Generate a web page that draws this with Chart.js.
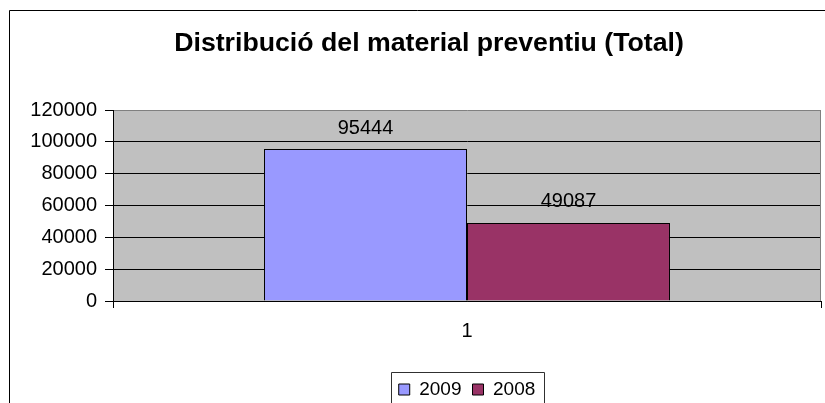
<!DOCTYPE html>
<html>
<head>
<meta charset="utf-8">
<script src="https://cdn.jsdelivr.net/npm/chart.js@4"></script>
<style>
  html, body { margin: 0; padding: 0; background: #ffffff; overflow: hidden; }
  canvas { display: block; }
</style>
</head>
<body>
<canvas id="chart" width="825" height="403"></canvas>
<script>
// chart values
const categories = ['1'];
const seriesNames = ['2009', '2008'];
const values2009 = [95444];
const values2008 = [49087];
const yMin = 0;
const yMax = 120000;
const yStep = 20000;

const FONT = '"Liberation Sans", Arial, sans-serif';

// white page, grey plot area and the outer frame of the chart
const backgroundPlugin = {
    id: 'background',
    afterLayout(chart) {
        // the title sits a little right of the page centre
        if (chart.titleBlock) chart.titleBlock.left += 7;
    },
    beforeDraw(chart) {
        const { ctx, chartArea } = chart;
        ctx.save();
        ctx.fillStyle = '#ffffff';
        ctx.fillRect(0, 0, chart.width, chart.height);
        ctx.fillStyle = '#c0c0c0';
        ctx.fillRect(chartArea.left, chartArea.top, chartArea.right - chartArea.left, chartArea.bottom - chartArea.top);
        // outer frame (right and bottom edges are outside the picture)
        ctx.strokeStyle = '#000000';
        ctx.lineWidth = 1;
        ctx.beginPath();
        ctx.moveTo(9.5, chart.height);
        ctx.lineTo(9.5, 10.5);
        ctx.lineTo(chart.width, 10.5);
        ctx.stroke();
        ctx.restore();
    },
    afterDraw(chart) {
        const { ctx, chartArea } = chart;
        ctx.save();
        ctx.strokeStyle = '#808080';
        ctx.lineWidth = 1;
        ctx.beginPath();
        ctx.moveTo(Math.round(chartArea.right) - 0.5, chartArea.top);
        ctx.lineTo(Math.round(chartArea.right) - 0.5, chartArea.bottom);
        ctx.stroke();

        // frame round the legend
        const boxes = chart.legend.legendHitBoxes;
        if (boxes && boxes.length) {
            const first = boxes[0];
            const last = boxes[boxes.length - 1];
            const x0 = Math.round(first.left - 8) + 0.5;
            const x1 = Math.round(last.left + last.width + 9) + 0.5;
            const y0 = Math.round(first.top - 8) + 0.5;
            ctx.strokeStyle = '#303030';
            ctx.beginPath();
            ctx.moveTo(x0, chart.height + 5);
            ctx.lineTo(x0, y0);
            ctx.lineTo(x1, y0);
            ctx.lineTo(x1, chart.height + 5);
            ctx.stroke();
        }
        ctx.restore();
    }
};

// value above each bar
const valueLabels = {
    id: 'valueLabels',
    afterDatasetsDraw(chart) {
        const { ctx } = chart;
        ctx.save();
        ctx.font = '20px ' + FONT;
        ctx.fillStyle = '#000000';
        ctx.textAlign = 'center';
        ctx.textBaseline = 'middle';
        chart.data.datasets.forEach((ds, i) => {
            chart.getDatasetMeta(i).data.forEach((bar, j) => {
                ctx.fillText(String(ds.data[j]), bar.x, bar.y - 21);
            });
        });
        ctx.restore();
    }
};

const ctx = document.getElementById('chart').getContext('2d');

new Chart(ctx, {
    type: 'bar',
    data: {
        labels: categories,
        datasets: [
            {
                label: seriesNames[0],
                data: values2009,
                backgroundColor: '#9999ff',
                borderColor: '#000000',
                borderWidth: 1,
                categoryPercentage: 0.5734,
                barPercentage: 1,
            },
            {
                label: seriesNames[1],
                data: values2008,
                backgroundColor: '#993366',
                borderColor: '#000000',
                borderWidth: 1,
                categoryPercentage: 0.5734,
                barPercentage: 1,
            },
        ]
    },
    options: {
        responsive: false,
        animation: false,
        layout: {
            padding: { left: 30, right: 4, top: 10, bottom: -6 }
        },
        scales: {
            x: {
                offset: true,
                grid: {
                    offset: true,
                    drawOnChartArea: false,
                    drawTicks: true,
                    tickLength: 7,
                    color: '#000000',
                },
                border: { color: '#000000', width: 1 },
                ticks: {
                    color: '#000000',
                    padding: 11,
                    font: { family: FONT, size: 20 },
                },
                afterFit(scale) {
                    scale.height = 68;
                },
            },
            y: {
                min: yMin,
                max: yMax,
                ticks: {
                    stepSize: yStep,
                    color: '#000000',
                    padding: 8,
                    font: { family: FONT, size: 20 },
                    callback: (v) => String(v),
                },
                grid: {
                    color: (c) => (c.tick && c.tick.value === yMax ? '#808080' : '#000000'),
                    tickColor: '#000000',
                    tickLength: 8,
                    lineWidth: 1,
                },
                border: { color: '#000000', width: 1 },
                afterFit(scale) {
                    scale.width = 83;
                },
            },
        },
        plugins: {
            title: {
                display: true,
                text: 'Distribució del material preventiu (Total)',
                color: '#000000',
                font: { family: FONT, size: 26.7, weight: 'bold' },
                padding: { top: 18, bottom: 50 },
            },
            legend: {
                position: 'bottom',
                fullSize: false,
                labels: {
                    color: '#000000',
                    boxWidth: 11,
                    boxHeight: 11,
                    padding: 11,
                    font: { family: FONT, size: 19 },
                },
            },
            tooltip: { enabled: false },
        },
    },
    plugins: [backgroundPlugin, valueLabels],
});
</script>
</body>
</html>
